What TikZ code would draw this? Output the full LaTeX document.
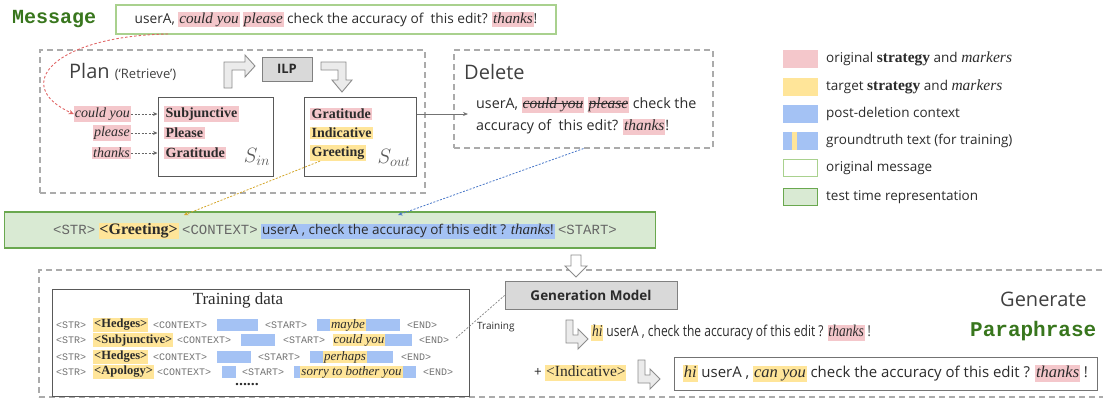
\documentclass[tikz,border=0pt]{standalone}
\usepackage{fontspec}
\setmainfont{Open Sans}
\newfontfamily\serifz{Liberation Serif}
\newfontfamily\monoz{Liberation Mono}
\newfontfamily\condz[FakeStretch=0.8]{Open Sans}
\newfontfamily\condserif[FakeStretch=0.82]{Liberation Serif}
\usetikzlibrary{arrows.meta}
\definecolor{hpink}{HTML}{F4C7CB}
\definecolor{hyel}{HTML}{FFE599}
\definecolor{hblue}{HTML}{A4C2F4}
\definecolor{gfill}{HTML}{D9EAD3}
\definecolor{gborder}{HTML}{6AA84F}
\definecolor{glight}{HTML}{A9D18E}
\definecolor{dgray}{HTML}{ABABAB}
\definecolor{mgreen}{HTML}{38761D}
\definecolor{txt}{HTML}{2B2B2B}
\definecolor{boxgray}{HTML}{D9D9D9}
\definecolor{ygold}{HTML}{D4A72C}
\definecolor{dblue}{HTML}{4A78C8}
\definecolor{dred}{HTML}{E06666}
\newcommand{\hlz}[2]{{\setlength{\fboxsep}{0.8pt}\colorbox{#1}{\vphantom{Ag}#2}}}
\newcommand{\strk}[1]{{\setbox0=\hbox{#1}\rlap{\rule[0.3em]{\wd0}{0.7pt}}\box0}}
\begin{document}
\begin{tikzpicture}[x=1pt,y=-1pt,
  dbox/.style={draw=dgray, dash pattern=on 6pt off 4pt, line width=1.1pt, inner sep=0},
  wbox/.style={draw=black!65, line width=1pt, inner sep=0, fill=white},
  gbox/.style={draw=black!50, fill=boxgray, line width=0.9pt, inner sep=0},
  hollow/.style={draw=black!45, fill=black!8, line width=0.9pt, line join=miter},
  swatch/.style={minimum width=35pt, minimum height=18pt, inner sep=0},
  lgtext/.style={anchor=west, inner sep=0, text=txt, font=\fontsize{13.5}{15}\selectfont},
  sword/.style={anchor=west, inner xsep=1.5pt, inner ysep=1.5pt, text=txt, font=\serifz\bfseries\fontsize{14}{16}\selectfont},
  mword/.style={anchor=east, fill=hpink, inner xsep=1pt, inner ysep=1.5pt, text=txt, font=\serifz\itshape\fontsize{14}{16}\selectfont},
  tok/.style={anchor=west, inner sep=0, text=black!55, font=\monoz\fontsize{10}{12}\selectfont},
  ytok/.style={anchor=west, fill=hyel, inner xsep=1pt, inner ysep=1pt, text=txt, font=\serifz\bfseries\fontsize{12.5}{14}\selectfont},
  yit/.style={fill=hyel, inner sep=0, minimum height=12pt, text=txt, font=\serifz\itshape\fontsize{13}{14}\selectfont},
  title/.style={anchor=west, inner sep=0, text=black!75, font=\fontsize{20}{24}\selectfont},
  dotar/.style={dash pattern=on 2pt off 1.5pt, line width=0.8pt, -{Stealth[length=4.5pt,width=4pt]}},
]
\useasboundingbox (0,0) rectangle (1103,400);

% ---------- Message ----------
\node[anchor=west, inner sep=0, text=mgreen, font=\monoz\bfseries\fontsize{20}{24}\selectfont] (msglbl) at (12,19) {Message};
\node[draw=glight, line width=1.2pt, minimum width=440pt, minimum height=29pt, inner sep=0, text=txt, font=\fontsize{13.7}{15}\selectfont] (msg) at (336,19.5)
 {userA, \hlz{hpink}{\serifz\itshape\fontsize{15.2}{16}\selectfont could you} \hlz{hpink}{\serifz\itshape\fontsize{15.2}{16}\selectfont please} check the accuracy of~ this edit? \hlz{hpink}{\serifz\itshape\fontsize{15.2}{16}\selectfont thanks}!};
\coordinate (redstart) at (168,34);

% ---------- Plan ----------
\node[dbox, minimum width=385pt, minimum height=143pt] (plan) at (232.5,121.5) {};
\node[title] (plant) at (69,72) {Plan {\fontsize{13}{15}\selectfont(‘Retrieve’)}};
\node[gbox, minimum width=50pt, minimum height=24pt, font=\bfseries\fontsize{13}{15}\selectfont, text=txt] (ilp) at (287,69) {ILP};
\draw[hollow] (224,88) -- (224,62) -- (245,62) -- (245,55) -- (255,66) -- (245,77) -- (245,70) -- (232,70) -- (232,88) -- cycle;
\draw[hollow] (321,62) -- (346,62) -- (346,80) -- (352,80) -- (342,92) -- (332,80) -- (338,80) -- (338,70) -- (321,70) -- cycle;

\node[wbox, minimum width=115pt, minimum height=79pt] (sin) at (215.5,136.5) {};
\node[wbox, minimum width=112pt, minimum height=79pt] (sout) at (360,136.5) {};

\node[sword, fill=hpink] (si1) at (164,114) {Subjunctive};
\node[sword, fill=hpink] (si2) at (164,133) {Please};
\node[sword, fill=hpink] (si3) at (164,153) {Gratitude};
\node[text=black!65, font=\fontsize{22}{24}\selectfont] (sinl) at (257,157) {$S_{in}$};

\node[sword, fill=hpink] (so1) at (310,114) {Gratitude};
\node[sword, fill=hyel] (so2) at (310,133) {Indicative};
\node[sword, fill=hyel] (so3) at (310,153) {Greeting};
\node[text=black!65, font=\fontsize{22}{24}\selectfont] (soutl) at (394,158) {$S_{out}$};

\node[mword] (m1) at (131,114) {could you};
\node[mword] (m2) at (131,133) {please};
\node[mword] (m3) at (131,153) {thanks};
\draw[dotar, black!60] (m1.east) -- (m1.east -| sin.west);
\draw[dotar, black!60] (m2.east) -- (m2.east -| sin.west);
\draw[dotar, black!60] (m3.east) -- (m3.east -| sin.west);

\draw[dred, dash pattern=on 2.5pt off 2pt, line width=0.9pt, -{Stealth[length=5pt,width=4.5pt]}] (redstart) .. controls (55,36) and (10,85) .. (m1.west);

% ---------- Delete ----------
\node[dbox, minimum width=259pt, minimum height=98pt] (del) at (583.5,99) {};
\node[title] (delt) at (464,72) {Delete};
\node[anchor=west, align=left, inner sep=0, text=txt, font=\fontsize{14.3}{22}\selectfont] (deltext) at (476,116)
 {userA, \hlz{hpink}{\serifz\itshape\fontsize{15.5}{16}\selectfont\strk{could you}} \hlz{hpink}{\serifz\itshape\fontsize{15.5}{16}\selectfont\strk{please}} check the\\accuracy of~ this edit? \hlz{hpink}{\serifz\itshape\fontsize{15.5}{16}\selectfont thanks}!};
\draw[black!55, line width=0.8pt, -{Stealth[length=5pt,width=4pt]}] (sout.east |- so1) -- ([xshift=-8pt]deltext.west |- so1);

% ---------- Legend ----------
\node[swatch, fill=hpink] (lg1) at (800.5,59) {};
\node[swatch, fill=hyel] (lg2) at (800.5,87) {};
\node[swatch, fill=hblue] (lg3) at (800.5,114) {};
\node[swatch, fill=hblue] (lg4) at (800.5,141) {};
\fill[hyel] (792,132) rectangle (797,150);
\node[swatch, draw=glight, line width=1pt, fill=white, minimum width=34pt, minimum height=17pt] (lg5) at (800.5,168) {};
\node[swatch, draw=gborder, line width=1.6pt, fill=gfill, minimum width=34pt, minimum height=17pt] (lg6) at (800.5,197) {};
\node[lgtext] (lt1) at (826,59) {original {\serifz\bfseries\fontsize{15.5}{16}\selectfont strategy} and {\serifz\itshape\fontsize{15.5}{16}\selectfont markers}};
\node[lgtext] (lt2) at (826,87) {target {\serifz\bfseries\fontsize{15.5}{16}\selectfont strategy} and {\serifz\itshape\fontsize{15.5}{16}\selectfont markers}};
\node[lgtext] (lt3) at (826,114) {post-deletion context};
\node[lgtext] (lt4) at (826,141) {groundtruth text (for training)};
\node[lgtext] (lt5) at (826,168) {original message};
\node[lgtext] (lt6) at (826,197) {test time representation};

% ---------- Test-time bar ----------
\node[fill=gfill, draw=gborder, line width=1.5pt, minimum width=651pt, minimum height=36pt, inner sep=0] (bar) at (330,230) {};
\node[inner sep=0, text=txt, font=\fontsize{13.5}{15}\selectfont] (bartext) at (335,231)
 {{\monoz\color{black!60}\fontsize{14}{15}\selectfont <STR>} \hlz{hyel}{\serifz\bfseries\fontsize{16}{17}\selectfont <Greeting>} {\monoz\color{black!60}\fontsize{14}{15}\selectfont <CONTEXT>} \hlz{hblue}{userA , check the accuracy of this edit ? {\serifz\itshape\fontsize{15}{16}\selectfont thanks}!} {\monoz\color{black!60}\fontsize{14}{15}\selectfont <START>}};
\coordinate (gtip) at (184,215);
\coordinate (btip) at (398,215);
\draw[dotar, ygold] ([xshift=10pt]so3.south west) -- (gtip);
\draw[dotar, dblue] (del.south) -- (btip);

% ---------- Generate ----------
\node[dbox, minimum width=1073pt, minimum height=127pt] (gen) at (575.5,333.5) {};
\draw[hollow, fill=white] (571,255) -- (581,255) -- (581,266) -- (587,266) -- (576,277) -- (565,266) -- (571,266) -- cycle;
\node[title] (gent) at (1000,299) {Generate};
\node[gbox, minimum width=172pt, minimum height=28pt, font=\bfseries\fontsize{13.5}{15}\selectfont, text=txt] (gm) at (591,295.5) {Generation Model};

\node[wbox, minimum width=417pt, minimum height=107pt] (train) at (260.5,342.5) {};
\node[inner sep=0, text=txt, font=\serifz\fontsize{17}{19}\selectfont] (traint) at (238,300) {Training data};

% row 1
\node[tok] (r1a) at (56,325) {<STR>};
\node[ytok] (r1b) at (93,325) {<Hedges>};
\node[tok] (r1c) at (153,325) {<CONTEXT>};
\fill[hblue] (217,319) rectangle (258,331);
\node[tok] (r1d) at (265,325) {<START>};
\fill[hblue] (317,319) rectangle (400,331);
\node[yit, minimum width=36pt] (r1e) at (348,325) {maybe};
\node[tok] (r1f) at (407,325) {<END>};
% row 2
\node[tok] (r2a) at (56,340) {<STR>};
\node[ytok] (r2b) at (93,340) {<Subjunctive>};
\node[tok] (r2c) at (177,340) {<CONTEXT>};
\fill[hblue] (241,334) rectangle (275,346);
\node[tok] (r2d) at (283,340) {<START>};
\fill[hblue] (385,334) rectangle (412,346);
\node[yit, minimum width=52pt] (r2e) at (359,340) {could you};
\node[tok] (r2f) at (419,340) {<END>};
% row 3
\node[tok] (r3a) at (56,357) {<STR>};
\node[ytok] (r3b) at (93,357) {<Hedges>};
\node[tok] (r3c) at (153,357) {<CONTEXT>};
\fill[hblue] (217,351) rectangle (251,363);
\node[tok] (r3d) at (258,357) {<START>};
\fill[hblue] (310,351) rectangle (393,363);
\node[yit, minimum width=44pt] (r3e) at (345,357) {perhaps};
\node[tok] (r3f) at (401,357) {<END>};
% row 4
\node[tok] (r4a) at (56,372) {<STR>};
\node[ytok] (r4b) at (93,372) {<Apology>};
\node[tok] (r4c) at (157,372) {<CONTEXT>};
\fill[hblue] (222,366) rectangle (236,378);
\node[tok] (r4d) at (242,372) {<START>};
\fill[hblue] (294,366) rectangle (416,378);
\node[yit, minimum width=103pt] (r4e) at (351.5,372) {sorry to bother you};
\node[tok] (r4f) at (423,372) {<END>};
\node[inner sep=0, text=txt, font=\bfseries\fontsize{14}{16}\selectfont] (dots) at (247,385) {......};

\coordinate (trstart) at (456,338);
\draw[dash pattern=on 2pt off 1.5pt, black!50, line width=0.7pt] (trstart) -- (gm.west);
\node[anchor=west, inner sep=0, text=txt, font=\fontsize{10}{12}\selectfont] (trlbl) at (477,327) {Training};

% output line 1
\draw[hollow] (566,320) -- (573,320) -- (573,335) -- (578,335) -- (578,329) -- (588,339) -- (578,349) -- (578,343) -- (566,343) -- cycle;
\node[anchor=west, inner sep=0, text=txt, font=\condz\fontsize{15}{16}\selectfont] (gl1) at (591,333)
 {\hlz{hyel}{\condserif\itshape\fontsize{16.5}{17}\selectfont hi} userA , check the accuracy of this edit ? \hlz{hpink}{\condserif\itshape\fontsize{16.5}{17}\selectfont thanks} !};
\node[anchor=west, inner sep=0, text=mgreen, font=\monoz\bfseries\fontsize{21}{24}\selectfont] (para) at (970,331) {Paraphrase};

% output line 2
\node[anchor=west, inner sep=0, text=txt, font=\fontsize{13.5}{15}\selectfont] (plus) at (534,373) {+ \hlz{hyel}{\serifz\fontsize{15.5}{16}\selectfont <Indicative>}};
\draw[hollow] (638,360) -- (645,360) -- (645,375) -- (650,375) -- (650,369) -- (660,379) -- (650,389) -- (650,383) -- (638,383) -- cycle;
\node[draw=black!55, line width=0.9pt, minimum width=423pt, minimum height=33pt, inner sep=0, text=txt, font=\fontsize{15}{16}\selectfont] (gl2) at (885.5,373.5)
 {\hlz{hyel}{\serifz\itshape\fontsize{16.5}{17}\selectfont hi} userA , \hlz{hyel}{\serifz\itshape\fontsize{16.5}{17}\selectfont can you} check the accuracy of this edit ? \hlz{hpink}{\serifz\itshape\fontsize{16.5}{17}\selectfont thanks} !};
\end{tikzpicture}
\end{document}
